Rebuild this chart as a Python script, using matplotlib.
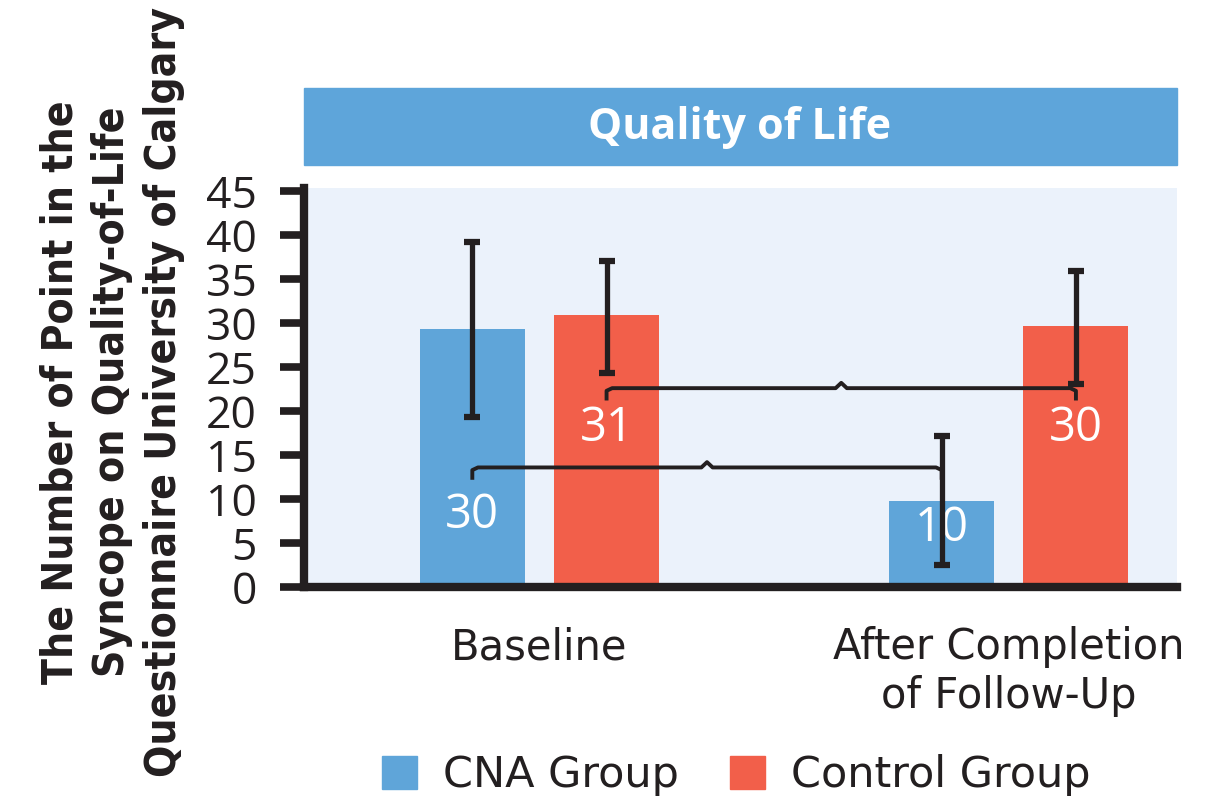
import matplotlib
matplotlib.use("Agg")
import matplotlib.pyplot as plt
from matplotlib.patches import Rectangle, Patch
import numpy as np

# data
groups = ['Baseline', 'After Completion\nof Follow-Up']
cna_mean = [29.3, 9.8]
cna_low = [19.3, 2.5]
cna_high = [39.2, 17.2]
ctrl_mean = [30.9, 29.7]
ctrl_low = [24.3, 23.1]
ctrl_high = [37.0, 35.9]
cna_text = ['30', '10']
ctrl_text = ['31', '30']
yticks = [0, 5, 10, 15, 20, 25, 30, 35, 40, 45]

BLUE = '#5fa5d9'
RED = '#f25f4a'
INK = '#231f20'
BG = '#ebf2fb'

OPEN = ['Open Sans', 'DejaVu Sans']

fig = plt.figure(figsize=(12.17, 7.99), dpi=100)
ax = fig.add_axes([0.2498, 0.265, 0.7172, 0.4995])
ax.set_facecolor(BG)

x = np.arange(len(groups))
w = 0.224
off = 0.143
xc = x - off
xr = x + off

ax.bar(xc, cna_mean, width=w, color=BLUE, zorder=2)
ax.bar(xr, ctrl_mean, width=w, color=RED, zorder=2)

def err(mean, lo, hi):
    m = np.array(mean)
    return [m - np.array(lo), np.array(hi) - m]

ekw = dict(fmt='none', ecolor=INK, elinewidth=3.8, capsize=6, capthick=4.5, zorder=4)
ax.errorbar(xc, cna_mean, yerr=err(cna_mean, cna_low, cna_high), **ekw)
ax.errorbar(xr, ctrl_mean, yerr=err(ctrl_mean, ctrl_low, ctrl_high), **ekw)

# value labels inside bars
for xi, t, yy in zip(xc, cna_text, [8.2, 6.7]):
    ax.text(xi, yy, t, color='white', fontsize=34, ha='center', va='center',
            family=OPEN, zorder=3)
for xi, t, yy in zip(xr, ctrl_text, [18.1, 18.1]):
    ax.text(xi, yy, t, color='white', fontsize=34, ha='center', va='center',
            family=OPEN, zorder=3)

# comparison brackets
def bracket(x0, x1, y, drop=1.4, bump=0.6):
    mid = (x0 + x1) / 2
    d = 0.012
    xs = [x0, x0, x0 + d, mid - d, mid, mid + d, x1 - d, x1, x1]
    ys = [y - drop, y - 0.3, y, y, y + bump, y, y, y - 0.3, y - drop]
    ax.plot(xs, ys, color=INK, lw=2.8, solid_capstyle='butt', zorder=3)

bracket(xc[0], xc[1], 13.6)
bracket(xr[0], xr[1], 22.6)

ax.set_xlim(-0.5016, 1.358)
ax.set_ylim(0, 45.3)
ax.set_yticks(yticks)
ax.set_yticklabels([str(v) for v in yticks], fontsize=32, color=INK, family=OPEN)
ax.tick_params(axis='y', length=17, width=5.5, color=INK, pad=17)
ax.set_xticks(x)
ax.set_xticklabels(groups, fontsize=30, color=INK, linespacing=1.2)
ax.tick_params(axis='x', length=0, pad=28)

for s in ['top', 'right']:
    ax.spines[s].set_visible(False)
ax.spines['left'].set_linewidth(6)
ax.spines['left'].set_color(INK)
ax.spines['bottom'].set_linewidth(6)
ax.spines['bottom'].set_color(INK)

ax.set_ylabel('The Number of Point in the\nSyncope on Quality-of-Life\nQuestionnaire University of Calgary',
              fontsize=30.5, fontweight='bold', fontstretch='condensed', color=INK,
              linespacing=1.3)
ax.yaxis.set_label_coords(-0.136, 0.49)

# title banner
fig.patches.append(Rectangle((0.2498, 0.7935), 0.7172, 0.0964,
                             transform=fig.transFigure, color='#5ea5da'))
fig.text(0.608, 0.841, 'Quality of Life', color='white', fontsize=31,
         fontweight='bold', ha='center', va='center', family=OPEN)

handles = [Patch(color=BLUE, label='CNA Group'), Patch(color=RED, label='Control Group')]
fig.legend(handles=handles, loc='lower center', bbox_to_anchor=(0.605, -0.045), ncol=2,
           frameon=False, prop={'size': 31},
           handlelength=0.8, handleheight=0.8, handletextpad=0.6, columnspacing=1.2,
           labelcolor=INK)

fig.savefig('out.png', dpi=100)
